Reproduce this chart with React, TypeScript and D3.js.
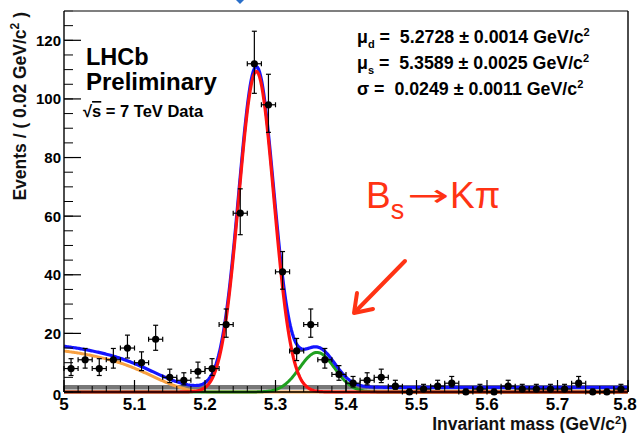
import React from "react";
import * as d3 from "d3";

// ---- data ----
const binCenters = [
  5.01, 5.03, 5.05, 5.07, 5.09, 5.11, 5.13, 5.15, 5.17, 5.19,
  5.21, 5.23, 5.25, 5.27, 5.29, 5.31, 5.33, 5.35, 5.37, 5.39,
  5.41, 5.43, 5.45, 5.47, 5.49, 5.51, 5.53, 5.55, 5.57, 5.59,
  5.61, 5.63, 5.65, 5.67, 5.69, 5.71, 5.73, 5.75, 5.77, 5.79,
];
const counts = [
  8, 11, 8, 11, 15, 10, 18, 5, 4, 7,
  8, 23, 61, 112, 98, 41, 14, 23, 11, 6,
  3, 4, 5, 2, 0, 1, 2, 3, 0, 1,
  0, 2, 1, 1, 1, 1, 3, 0, 0, 1,
];
const binHalfWidth = 0.01;

// fit parameters printed on the chart
const peakMeans = [5.2728, 5.3589];
const peakSigma = 0.0249;
const peakAmplitudes = [109.4, 13.5];
const combinatorialLevel = 1.6;

// partially reconstructed background (orange)
const bkgMass = [5.0, 5.02, 5.04, 5.06, 5.08, 5.1, 5.12, 5.14, 5.16, 5.18, 5.2, 5.22, 5.8];
const bkgValue = [14.0, 13.3, 12.4, 11.3, 9.9, 8.1, 6.0, 3.8, 1.9, 0.6, 0.05, 0, 0];

const xMajorTicks = [5, 5.1, 5.2, 5.3, 5.4, 5.5, 5.6, 5.7, 5.8];
const xTickLabels = ["5", "5.1", "5.2", "5.3", "5.4", "5.5", "5.6", "5.7", "5.8"];
const yMajorTicks = [0, 20, 40, 60, 80, 100, 120];
const yTickLabels = ["0", "20", "40", "60", "80", "100", "120"];

const paramSymbols = ["μ", "μ", "σ"];
const paramSubs = ["d", "s", ""];
const paramValues = ["5.2728", "5.3589", "0.0249"];
const paramErrors = ["0.0014", "0.0025", "0.0011"];

// ---- helpers ----
function monotoneInterp(xs: number[], ys: number[]) {
  const n = xs.length;
  const d: number[] = [];
  const m: number[] = [];
  for (let i = 0; i < n - 1; i++) d.push((ys[i + 1] - ys[i]) / (xs[i + 1] - xs[i]));
  m.push(d[0]);
  for (let i = 1; i < n - 1; i++) {
    if (d[i - 1] * d[i] <= 0) m.push(0);
    else m.push((2 * d[i - 1] * d[i]) / (d[i - 1] + d[i]));
  }
  m.push(d[n - 2]);
  return (x: number) => {
    if (x <= xs[0]) return ys[0];
    if (x >= xs[n - 1]) return ys[n - 1];
    let i = 0;
    while (x > xs[i + 1]) i++;
    const h = xs[i + 1] - xs[i];
    const t = (x - xs[i]) / h;
    const t2 = t * t, t3 = t2 * t;
    return (
      (2 * t3 - 3 * t2 + 1) * ys[i] +
      (t3 - 2 * t2 + t) * h * m[i] +
      (-2 * t3 + 3 * t2) * ys[i + 1] +
      (t3 - t2) * h * m[i + 1]
    );
  };
}

const gauss = (x: number, mu: number, s: number, a: number) =>
  a * Math.exp(-0.5 * ((x - mu) / s) ** 2);

const W = 644, H = 433;
const FONT = "'Liberation Sans', Arial, Helvetica, sans-serif";
const RED_TXT = "#ff3314";

export default function App() {
  const x = d3.scaleLinear().domain([5, 5.8]).range([64, 628]);
  const y = d3.scaleLinear().domain([0, 130]).range([392, 11]);

  const bkg = monotoneInterp(bkgMass, bkgValue);
  const grid = d3.range(5, 5.8 + 1e-9, 0.0015);

  const line = d3
    .line<[number, number]>()
    .x((d) => x(d[0]))
    .y((d) => y(d[1]));

  const redPts = grid.map((m) => [m, gauss(m, peakMeans[0], peakSigma, peakAmplitudes[0])] as [number, number]);
  const greenPts = grid.map((m) => [m, gauss(m, peakMeans[1], peakSigma, peakAmplitudes[1])] as [number, number]);
  const orangePts = grid.map((m) => [m, Math.max(0, bkg(m))] as [number, number]);
  const bluePts = grid.map(
    (m, i) => [m, redPts[i][1] + greenPts[i][1] + orangePts[i][1] + combinatorialLevel] as [number, number]
  );

  const xMinor = d3.range(5, 5.8 + 1e-9, 0.02);
  const yMinor = d3.range(0, 130 + 1e-9, 5);

  const errHi = (n: number) => n + 0.5 + Math.sqrt(n + 0.25);
  const errLo = (n: number) => Math.max(0, n + 0.5 - Math.sqrt(n + 0.25));

  return (
    <div style={{ position: "fixed", left: 0, top: 0, width: W, height: H, background: "#fff" }}>
      <svg width={W} height={H} viewBox={`0 0 ${W} ${H}`} style={{ display: "block" }}>
        <rect x={0} y={0} width={W} height={H} fill="#fff" />
        {/* small blue artifact at top */}
        <path d="M236,0 L244,0 L240,4 Z" fill="#2a6fc9" />

        {/* combinatorial background (grey) */}
        <line
          x1={x(5)}
          x2={x(5.8)}
          y1={y(combinatorialLevel)}
          y2={y(combinatorialLevel)}
          stroke="#777"
          strokeWidth={4.5}
        />
        {/* curves */}
        <path d={line(orangePts) || ""} fill="none" stroke="#f7a041" strokeWidth={3} />
        <path d={line(greenPts) || ""} fill="none" stroke="#1fa01f" strokeWidth={3} />
        <path d={line(bluePts) || ""} fill="none" stroke="#1414ff" strokeWidth={3.2} />
        <path d={line(redPts) || ""} fill="none" stroke="#ff1212" strokeWidth={3.2} />

        {/* ticks */}
        {xMinor.map((m, i) => (
          <line key={"xm" + i} x1={x(m)} x2={x(m)} y1={392} y2={386} stroke="#000" strokeWidth={1} />
        ))}
        {xMajorTicks.map((m, i) => (
          <line key={"xM" + i} x1={x(m)} x2={x(m)} y1={392} y2={380} stroke="#000" strokeWidth={1.2} />
        ))}
        {yMinor.map((v, i) => (
          <line key={"ym" + i} x1={64} x2={73} y1={y(v)} y2={y(v)} stroke="#000" strokeWidth={1} />
        ))}
        {yMajorTicks.map((v, i) => (
          <line key={"yM" + i} x1={64} x2={81} y1={y(v)} y2={y(v)} stroke="#000" strokeWidth={1.2} />
        ))}

        {/* data points */}
        {binCenters.map((m, i) => {
          const n = counts[i];
          const cx = x(m);
          const cy = y(n);
          const yh = y(errHi(n));
          const yl = y(errLo(n));
          const xl = x(m - binHalfWidth);
          const xr = x(m + binHalfWidth);
          return (
            <g key={"p" + i} stroke="#000" strokeWidth={1.2}>
              <line x1={cx} x2={cx} y1={yh} y2={yl} />
              <line x1={cx - 2.5} x2={cx + 2.5} y1={yh} y2={yh} />
              <line x1={cx - 2.5} x2={cx + 2.5} y1={yl} y2={yl} />
              <line x1={xl} x2={xr} y1={cy} y2={cy} />
              <line x1={xl} x2={xl} y1={cy - 2.5} y2={cy + 2.5} />
              <line x1={xr} x2={xr} y1={cy - 2.5} y2={cy + 2.5} />
              <circle cx={cx} cy={cy} r={3.6} fill="#000" stroke="none" />
            </g>
          );
        })}

        {/* frame */}
        <line x1={64} x2={628} y1={11} y2={11} stroke="#555" strokeWidth={1.6} />
        <line x1={64} x2={64} y1={11} y2={392} stroke="#000" strokeWidth={1.4} />
        <line x1={628} x2={628} y1={11} y2={392} stroke="#000" strokeWidth={1.4} />
        <line x1={64} x2={628} y1={392} y2={392} stroke="#000" strokeWidth={1.4} />

        {/* tick labels */}
        {xMajorTicks.map((m, i) => (
          <text
            key={"xl" + i}
            x={x(m) + (i === xMajorTicks.length - 1 ? -3 : 0)}
            y={410}
            textAnchor="middle"
            fontFamily={FONT}
            fontWeight="bold"
            fontSize={17}
            fill="#000"
          >
            {xTickLabels[i]}
          </text>
        ))}
        {yMajorTicks.map((v, i) => (
          <text
            key={"yl" + i}
            x={61}
            y={y(v) + 5.5 + (v === 0 ? 2 : 0)}
            textAnchor="end"
            fontFamily={FONT}
            fontWeight="bold"
            fontSize={15}
            fill="#000"
          >
            {yTickLabels[i]}
          </text>
        ))}

        {/* axis titles */}
        <text x={627} y={430} textAnchor="end" fontFamily={FONT} fontWeight="bold" fontSize={17.5} fill="#111">
          Invariant mass (GeV/c
          <tspan fontSize={11} dy={-6}>2</tspan>
          <tspan dy={6}>)</tspan>
        </text>
        <text
          transform="translate(26,12) rotate(-90)"
          textAnchor="end"
          fontFamily={FONT}
          fontWeight="bold"
          fontSize={17.5}
          fill="#111"
          style={{ whiteSpace: "pre" }}
        >
          {"Events / ( 0.02 GeV/c"}
          <tspan fontSize={12} dy={-7}>2</tspan>
          <tspan dy={7}>{" )"}</tspan>
        </text>

        {/* LHCb label */}
        <text x={86} y={65} fontFamily={FONT} fontWeight="bold" fontSize={23.5} fill="#000">
          LHCb
        </text>
        <text x={86} y={90} fontFamily={FONT} fontWeight="bold" fontSize={24} fill="#000">
          Preliminary
        </text>
        <text x={83} y={117} fontFamily={FONT} fontWeight="bold" fontSize={16.5} fill="#000">
          √<tspan style={{ textDecoration: "overline" }}>s</tspan> = 7 TeV Data
        </text>

        {/* fit parameters */}
        {paramSymbols.map((sym, i) => (
          <text
            key={"pr" + i}
            x={357}
            y={43 + i * 26}
            fontFamily={FONT}
            fontWeight="bold"
            fontSize={17.8}
            fill="#000"
            style={{ whiteSpace: "pre" }}
          >
            {sym}
            {paramSubs[i] ? (
              <tspan fontSize={11} dy={5}>
                {paramSubs[i]}
              </tspan>
            ) : null}
            <tspan dy={paramSubs[i] ? -5 : 0}>{" =  " + paramValues[i] + " ± " + paramErrors[i] + " GeV/c"}</tspan>
            <tspan fontSize={11} dy={-7}>2</tspan>
          </text>
        ))}

        {/* Bs -> K pi annotation */}
        <text x={366} y={208} fontFamily={FONT} fontSize={37} fill={RED_TXT}>
          B<tspan fontSize={27} dy={11}>s</tspan>
        </text>
        <text
          x={407}
          y={206}
          fontFamily="'DejaVu Sans', sans-serif"
          fontSize={31}
          fill={RED_TXT}
          textLength={42}
          lengthAdjust="spacingAndGlyphs"
        >
          →
        </text>
        <text x={450} y={208} fontFamily={FONT} fontSize={37} fill={RED_TXT}>
          Kπ
        </text>
        <g stroke={RED_TXT} strokeWidth={4} fill="none" strokeLinecap="round" strokeLinejoin="round">
          <line x1={405} y1={261} x2={355} y2={312} />
          <path d="M357,293 L354,313 L373,309" />
        </g>
      </svg>
    </div>
  );
}
